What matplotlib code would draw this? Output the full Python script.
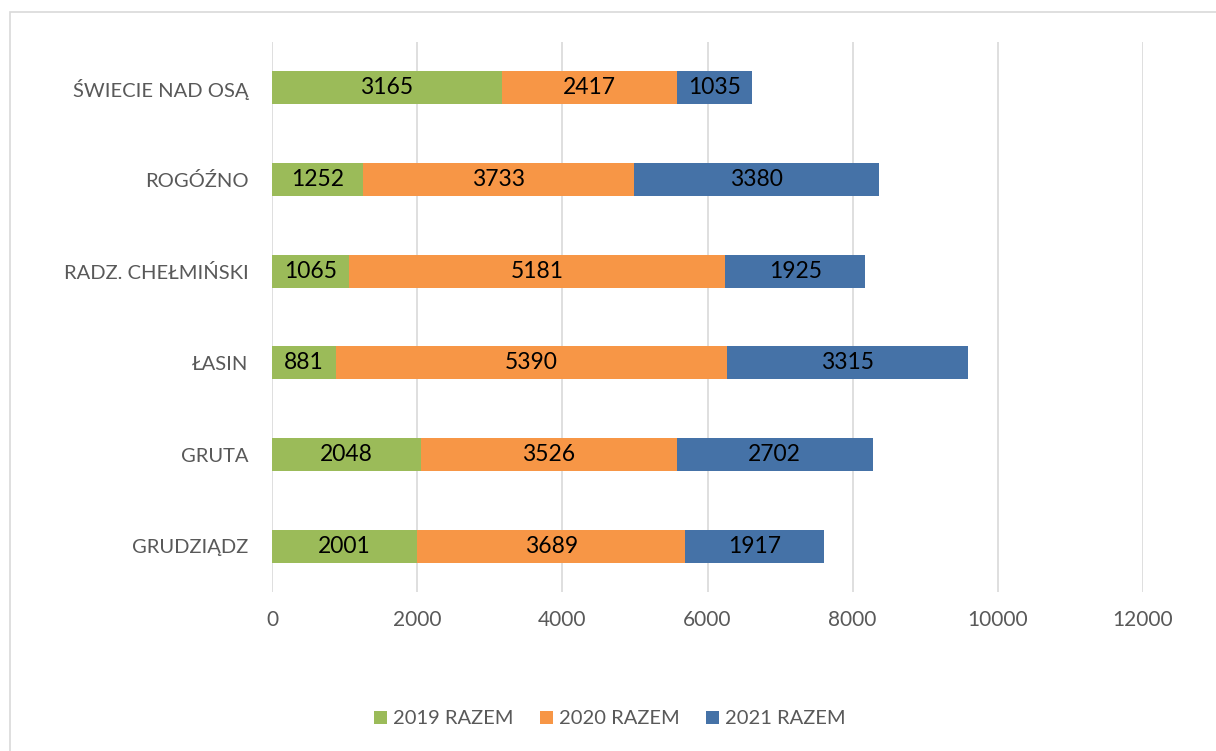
import matplotlib
matplotlib.use("Agg")
import matplotlib.pyplot as plt
from matplotlib.patches import Rectangle, Patch

categories = ["GRUDZIĄDZ", "GRUTA", "ŁASIN", "RADZ. CHEŁMIŃSKI", "ROGÓŹNO", "ŚWIECIE NAD OSĄ"]
series_names = ["2019 RAZEM", "2020 RAZEM", "2021 RAZEM"]
v2019 = [2001, 2048, 881, 1065, 1252, 3165]
v2020 = [3689, 3526, 5390, 5181, 3733, 2417]
v2021 = [1917, 2702, 3315, 1925, 3380, 1035]
xticks = [0, 2000, 4000, 6000, 8000, 10000, 12000]
colors = ["#9BBB59", "#F79646", "#4572A7"]

plt.rcParams['font.family'] = ['Lato', 'DejaVu Sans']
W, H = 1216, 751
fig = plt.figure(figsize=(W/100, H/100), dpi=100)
ax = fig.add_axes([272/W, 1-592/H, (1143-272)/W, (592-42)/H])

# border
fig.patches.append(Rectangle((10/W, -0.1), 1.2, 1-12/H+0.1, transform=fig.transFigure,
                             fill=False, edgecolor="#D9D9D9", linewidth=1.2))

y = list(range(len(categories)))
left = [0]*len(categories)
for vals, name, c in zip([v2019, v2020, v2021], series_names, colors):
    bars = ax.barh(y, vals, left=left, height=0.36, color=c, label=name, zorder=3)
    ax.bar_label(bars, labels=[str(v) for v in vals], label_type='center',
                 fontsize=16.5, color='black')
    left = [l+v for l, v in zip(left, vals)]

ax.set_xlim(0, 12000)
ax.set_ylim(-0.5, len(categories)-0.5)
ax.set_xticks(xticks)
ax.set_xticklabels([str(t) for t in xticks])
ax.set_yticks(y)
ax.set_yticklabels(categories)
ax.tick_params(axis='both', length=0, labelcolor="#595959")
ax.tick_params(axis='x', pad=13, labelsize=15)
ax.tick_params(axis='y', pad=17, labelsize=14.5)
ax.grid(axis='x', color="#D9D9D9", linewidth=1.2, zorder=0)
for s in ax.spines.values():
    s.set_visible(False)

handles = [Patch(facecolor=c, label=n) for c, n in zip(colors, series_names)]
fig.legend(handles=handles, loc='center', bbox_to_anchor=(610/W, 1-719/H), ncol=3,
           frameon=False, fontsize=14.5, labelcolor="#595959", handlelength=0.65,
           handleheight=0.65, columnspacing=1.3, handletextpad=0.3)

fig.savefig("out.png", dpi=100, facecolor="white")
